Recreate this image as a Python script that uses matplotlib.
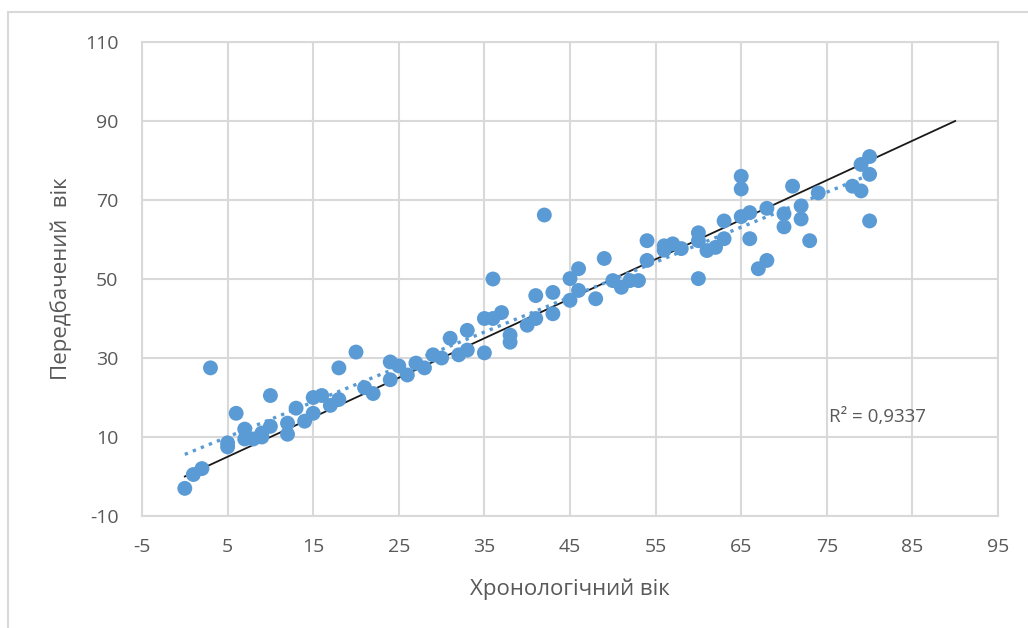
import numpy as np
import matplotlib; matplotlib.use("Agg")
import matplotlib.pyplot as plt
from matplotlib.patches import Rectangle

plt.rcParams["font.family"] = ["Open Sans", "DejaVu Sans"]
plt.rcParams["axes.unicode_minus"] = False

# хронологічний вік / передбачений вік
chron_age = [0, 1, 2, 3, 5, 5, 6, 7, 7, 8, 9, 9, 10, 10, 12, 12, 13, 14, 15, 15,
             16, 17, 18, 18, 20, 21, 22, 24, 24, 25, 26, 27, 28, 29, 30, 31, 32, 33, 33, 35,
             35, 36, 36, 37, 38, 38, 40, 41, 41, 42, 43, 43, 45, 45, 46, 46, 48, 49, 50, 51,
             52, 53, 54, 54, 56, 56, 57, 58, 60, 60, 60, 61, 62, 63, 63, 65, 65, 65, 66, 66,
             67, 68, 68, 70, 70, 71, 72, 72, 73, 74, 78, 79, 79, 80, 80, 80]
pred_age = [-3, 0.5, 2, 27.5, 8.5, 7.5, 16, 12, 9.5, 9.5, 10, 11, 20.5, 12.7, 10.7, 13.5, 17.3, 14, 20, 16,
            20.5, 18, 19.5, 27.5, 31.5, 22.5, 21, 29, 24.5, 28, 25.7, 28.7, 27.5, 30.8, 30, 35, 30.8, 37, 32, 31.3,
            40, 50, 40, 41.5, 35.8, 34, 38.3, 45.8, 40, 66.2, 46.6, 41.2, 44.6, 50.1, 52.6, 47.1, 45, 55.2, 49.6, 47.9,
            49.6, 49.6, 59.7, 54.7, 58.4, 57.3, 58.9, 57.7, 61.7, 59.7, 50.1, 57.2, 58, 60.2, 64.7, 76, 72.8, 65.8, 66.8, 60.2,
            52.6, 54.7, 67.9, 66.5, 63.2, 73.5, 68.5, 65.2, 59.7, 71.8, 73.5, 79, 72.3, 81, 76.5, 64.7]
ideal = [0, 90]
x_ticks = list(range(-5, 96, 10))
y_ticks = list(range(-10, 111, 20))
r2_text = "R² = 0,9337"

BLUE = "#5B9BD5"; GRID = "#D9D9D9"; TXT = "#595959"

fig = plt.figure(figsize=(10.28, 6.28), dpi=100)
fig.patches.append(Rectangle((8/1028, -0.05), 1.1, 1 - 12/628 + 0.05, transform=fig.transFigure,
                             fill=False, edgecolor=GRID, lw=1.5))
ax = fig.add_axes([142/1028, 1 - 516/628, (998 - 142)/1028, (516 - 42)/628])

x = np.array(chron_age, float); y = np.array(pred_age, float)
k, b = np.polyfit(x, y, 1)
xt = np.array([x.min(), x.max()])

ax.plot(ideal, ideal, color="#1a1a1a", lw=1.3, zorder=2)
ax.scatter(x, y, s=115, color=BLUE, edgecolors="none", zorder=3)
ax.plot(xt, k*xt + b, color=BLUE, lw=2.4, ls=(0, (1, 1.6)), zorder=4)

ax.set_xlim(-5, 95); ax.set_ylim(-10, 110)
ax.set_xticks(x_ticks); ax.set_yticks(y_ticks)
ax.grid(True, color=GRID, lw=1.5); ax.set_axisbelow(True)
for s in ax.spines.values(): s.set_color(GRID); s.set_linewidth(1.5)
ax.tick_params(length=0, colors=TXT, labelsize=14)
ax.tick_params(axis="x", pad=16)
ax.tick_params(axis="y", pad=17)
ax.set_xlabel("Хронологічний вік", color=TXT, fontsize=16, labelpad=16)
ax.set_ylabel("Передбачений  вік", color=TXT, fontsize=16, labelpad=9)
ax.text(75.2, 15, r2_text, color=TXT, fontsize=13.5, va="center", ha="left")

fig.savefig("out.png", dpi=100)
